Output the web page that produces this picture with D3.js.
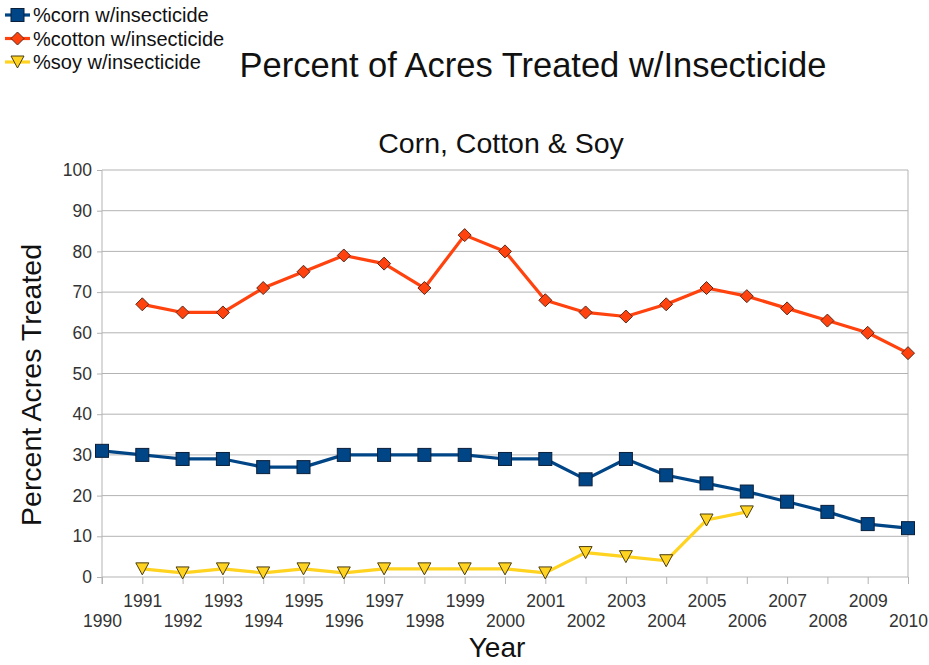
<!DOCTYPE html>
<html><head><meta charset="utf-8">
<script src="https://cdn.jsdelivr.net/npm/d3@7"></script>
<style>body{margin:0;background:#fff}text{font-family:"Liberation Sans",Arial,sans-serif}</style>
</head><body>
<svg id="c" width="929" height="665"></svg>
<script>
const years = d3.range(1990, 2011);
const corn = [31,30,29,29,27,27,30,30,30,30,29,29,24,29,25,23,21,18.5,16,13,12];
const cotton = [null,67,65,65,71,75,79,77,71,84,80,68,65,64,67,71,69,66,63,60,55];
const soy = [null,2,1,2,1,2,1,2,2,2,2,1,6,5,4,14,16,null,null,null,null];
const yTicks = d3.range(0, 101, 10);
const seriesNames = ["%corn w/insecticide","%cotton w/insecticide","%soy w/insecticide"];
const colors = ["#004586","#ff420e","#ffd320"];

const svg = d3.select("#c");
const x = d3.scaleLinear().domain([1990, 2010]).range([102, 908]);
const y = d3.scaleLinear().domain([0, 100]).range([577, 170]);

// grid
svg.append("g").selectAll("line").data(yTicks).join("line")
  .attr("x1", 102).attr("x2", 908).attr("y1", d => y(d)).attr("y2", d => y(d))
  .attr("stroke", "#b3b3b3").attr("stroke-width", 1);
svg.append("line").attr("x1", 908).attr("x2", 908).attr("y1", 170).attr("y2", 577).attr("stroke", "#b3b3b3");
svg.append("line").attr("x1", 102).attr("x2", 102).attr("y1", 170).attr("y2", 584).attr("stroke", "#b3b3b3");

// y axis
const ya = svg.append("g").attr("transform", "translate(102,0)")
  .call(d3.axisLeft(y).tickValues(yTicks).tickSize(5).tickPadding(5));
ya.select(".domain").remove();
ya.selectAll("line").attr("stroke", "#b3b3b3");
ya.selectAll("text").attr("font-size", 17.5).attr("fill", "#333").style("font-family", "Liberation Sans, Arial, sans-serif");

// x axis
const xa = svg.append("g").attr("transform", "translate(0,577)")
  .call(d3.axisBottom(x).tickValues(years).tickFormat(d3.format("d")).tickSize(7).tickPadding(4));
xa.select(".domain").remove();
xa.selectAll("line").attr("stroke", "#b3b3b3");
xa.selectAll("text").attr("font-size", 17.5).attr("fill", "#333")
  .style("font-family", "Liberation Sans, Arial, sans-serif")
  .attr("dy", "0").attr("y", d => (d % 2 === 1) ? 30 : 50);

// lines
const data = [corn, cotton, soy];
const line = d3.line().defined(d => d.v != null).x(d => x(d.yr)).y(d => y(d.v));
data.forEach((arr, i) => {
  const pts = years.map((yr, j) => ({yr, v: arr[j]}));
  svg.append("path").datum(pts).attr("d", line).attr("fill", "none")
    .attr("stroke", colors[i]).attr("stroke-width", 3.2).attr("stroke-linejoin", "round");
});

function marker(g, i, cx, cy) {
  if (i === 0) {
    g.append("rect").attr("x", cx - 6.5).attr("y", cy - 6.5).attr("width", 13).attr("height", 13)
      .attr("fill", colors[0]).attr("stroke", "#0a1f3a").attr("stroke-width", 1);
  } else if (i === 1) {
    g.append("path").attr("d", `M${cx},${cy-6.5}L${cx+6.5},${cy}L${cx},${cy+6.5}L${cx-6.5},${cy}Z`)
      .attr("fill", colors[1]).attr("stroke", "#5a2a1a").attr("stroke-width", 1);
  } else {
    g.append("path").attr("d", `M${cx-6.5},${cy-6}L${cx+6.5},${cy-6}L${cx},${cy+6}Z`)
      .attr("fill", colors[2]).attr("stroke", "#4a3d10").attr("stroke-width", 1);
  }
}
data.forEach((arr, i) => {
  const g = svg.append("g");
  years.forEach((yr, j) => { if (arr[j] != null) marker(g, i, x(yr), y(arr[j])); });
});

// titles
svg.append("text").attr("x", 533).attr("y", 77).attr("text-anchor", "middle").attr("font-size", 34.5).attr("fill", "#111").text("Percent of Acres Treated w/Insecticide");
svg.append("text").attr("x", 501).attr("y", 153).attr("text-anchor", "middle").attr("font-size", 28.5).attr("fill", "#111").text("Corn, Cotton & Soy");
svg.append("text").attr("transform", "translate(41,385) rotate(-90)").attr("text-anchor", "middle").attr("font-size", 28.5).attr("fill", "#111").text("Percent Acres Treated");
svg.append("text").attr("x", 497).attr("y", 657).attr("text-anchor", "middle").attr("font-size", 28).attr("fill", "#111").text("Year");

// legend
seriesNames.forEach((n, i) => {
  const ly = 15 + i * 23.5;
  const g = svg.append("g");
  g.append("line").attr("x1", 5).attr("x2", 30).attr("y1", ly).attr("y2", ly).attr("stroke", colors[i]).attr("stroke-width", 3.2);
  marker(g, i, 17.5, ly);
  g.append("text").attr("x", 33).attr("y", ly + 7).attr("font-size", 20).attr("fill", "#111").text(n);
});
</script>
</body></html>
